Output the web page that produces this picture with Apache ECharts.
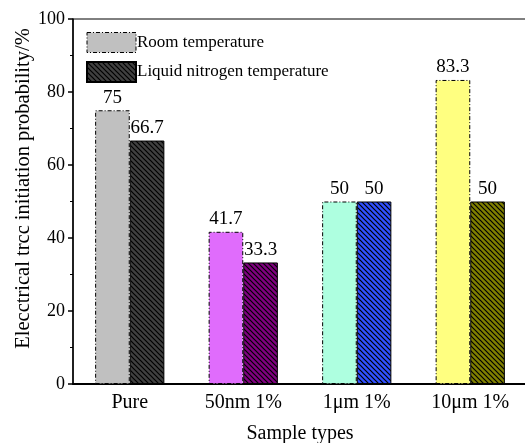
<!DOCTYPE html>
<html>
<head>
<meta charset="utf-8">
<script src="https://cdn.jsdelivr.net/npm/echarts@6/dist/echarts.min.js"></script>
<style>
  html, body { margin: 0; padding: 0; background: #fff; }
  #chart { width: 525px; height: 443px; }
</style>
</head>
<body>
<div id="chart"></div>
<script>
var categories = ["Pure", "50nm 1%", "1\u03bcm 1%", "10\u03bcm 1%"];
var roomTemp = [75, 41.7, 50, 83.3];
var liquidN2 = [66.7, 33.3, 50, 50];
var roomColors = ["#c0c0c0", "#e06cfc", "#aeffe0", "#ffff80"];
var liquidColors = ["#404040", "#800080", "#3050ff", "#808000"];
var yTicks = [0, 20, 40, 60, 80, 100];

// 斜线填充
function hatch(bg) {
  var c = document.createElement("canvas");
  c.width = 5;
  c.height = 5;
  var g = c.getContext("2d");
  g.fillStyle = bg;
  g.fillRect(0, 0, 5, 5);
  g.strokeStyle = "#000";
  g.lineWidth = 1.2;
  g.beginPath();
  g.moveTo(-1, -1);
  g.lineTo(6, 6);
  g.moveTo(-1, 4);
  g.lineTo(1, 6);
  g.moveTo(4, -1);
  g.lineTo(6, 1);
  g.stroke();
  return { image: c, repeat: "repeat" };
}

var font = "Liberation Serif";
var dashDot = [4, 2, 1, 2];
var myChart = echarts.init(document.getElementById("chart"));
var option = {
  animation: false,
  textStyle: { fontFamily: font, color: "#000" },
  grid: {
    left: 73,
    top: 19,
    bottom: 59,
    right: -2,
    outerBoundsMode: "none",
    containLabel: false,
    show: true,
    borderColor: "#000",
    borderWidth: 1,
    backgroundColor: "transparent",
  },
  legend: {
    orient: "vertical",
    left: 86,
    top: 32,
    padding: 0,
    icon: "rect",
    itemWidth: 49,
    itemHeight: 20,
    itemGap: 8,
    textStyle: { fontFamily: font, fontSize: 17, color: "#000", padding: [0, 0, 0, -4] },
    data: [
      { name: "Room temperature", itemStyle: { borderType: dashDot, borderWidth: 1, borderColor: "#000" } },
      { name: "Liquid nitrogen temperature" },
    ],
  },
  xAxis: {
    type: "category",
    data: categories,
    name: "Sample types",
    nameLocation: "middle",
    nameGap: 40,
    nameMoveOverlap: false,
    nameTextStyle: { fontFamily: font, fontSize: 20, color: "#000" },
    axisLine: { lineStyle: { color: "#000", width: 2 } },
    axisTick: { show: false },
    axisLabel: { fontFamily: font, fontSize: 20, color: "#000", margin: 9 },
  },
  yAxis: {
    type: "value",
    min: yTicks[0],
    max: yTicks[yTicks.length - 1],
    interval: 20,
    name: "Elecctrical trcc initiation probability/%",
    nameLocation: "middle",
    nameGap: 39,
    nameMoveOverlap: false,
    nameTextStyle: { fontFamily: font, fontSize: 20.5, color: "#000", padding: [0, 0, 0, 26] },
    axisLine: { show: true, lineStyle: { color: "#000", width: 1.5 } },
    axisTick: { show: true, inside: false, length: 5, lineStyle: { color: "#000", width: 1.5 } },
    minorTick: { show: true, splitNumber: 2, length: 3, lineStyle: { color: "#000", width: 1 } },
    splitLine: { show: false },
    axisLabel: { fontFamily: font, fontSize: 18, color: "#000", margin: 8 },
  },
  series: [
    {
      name: "Room temperature",
      type: "bar",
      barGap: "0%",
      barCategoryGap: "39%",
      itemStyle: {
        color: roomColors[0],
        borderColor: "#000",
        borderWidth: 1,
        borderType: dashDot,
      },
      label: {
        show: true,
        position: "top",
        distance: 3,
        fontFamily: font,
        fontSize: 19,
        color: "#000",
      },
      data: roomTemp.map(function (v, i) {
        return { value: v, itemStyle: { color: roomColors[i] } };
      }),
    },
    {
      name: "Liquid nitrogen temperature",
      type: "bar",
      itemStyle: {
        color: hatch(liquidColors[0]),
        borderColor: "#000",
        borderWidth: 1,
      },
      label: {
        show: true,
        position: "top",
        distance: 3,
        fontFamily: font,
        fontSize: 19,
        color: "#000",
      },
      data: liquidN2.map(function (v, i) {
        return { value: v, itemStyle: { color: hatch(liquidColors[i]) } };
      }),
    },
  ],
};
myChart.setOption(option);
</script>
</body>
</html>
